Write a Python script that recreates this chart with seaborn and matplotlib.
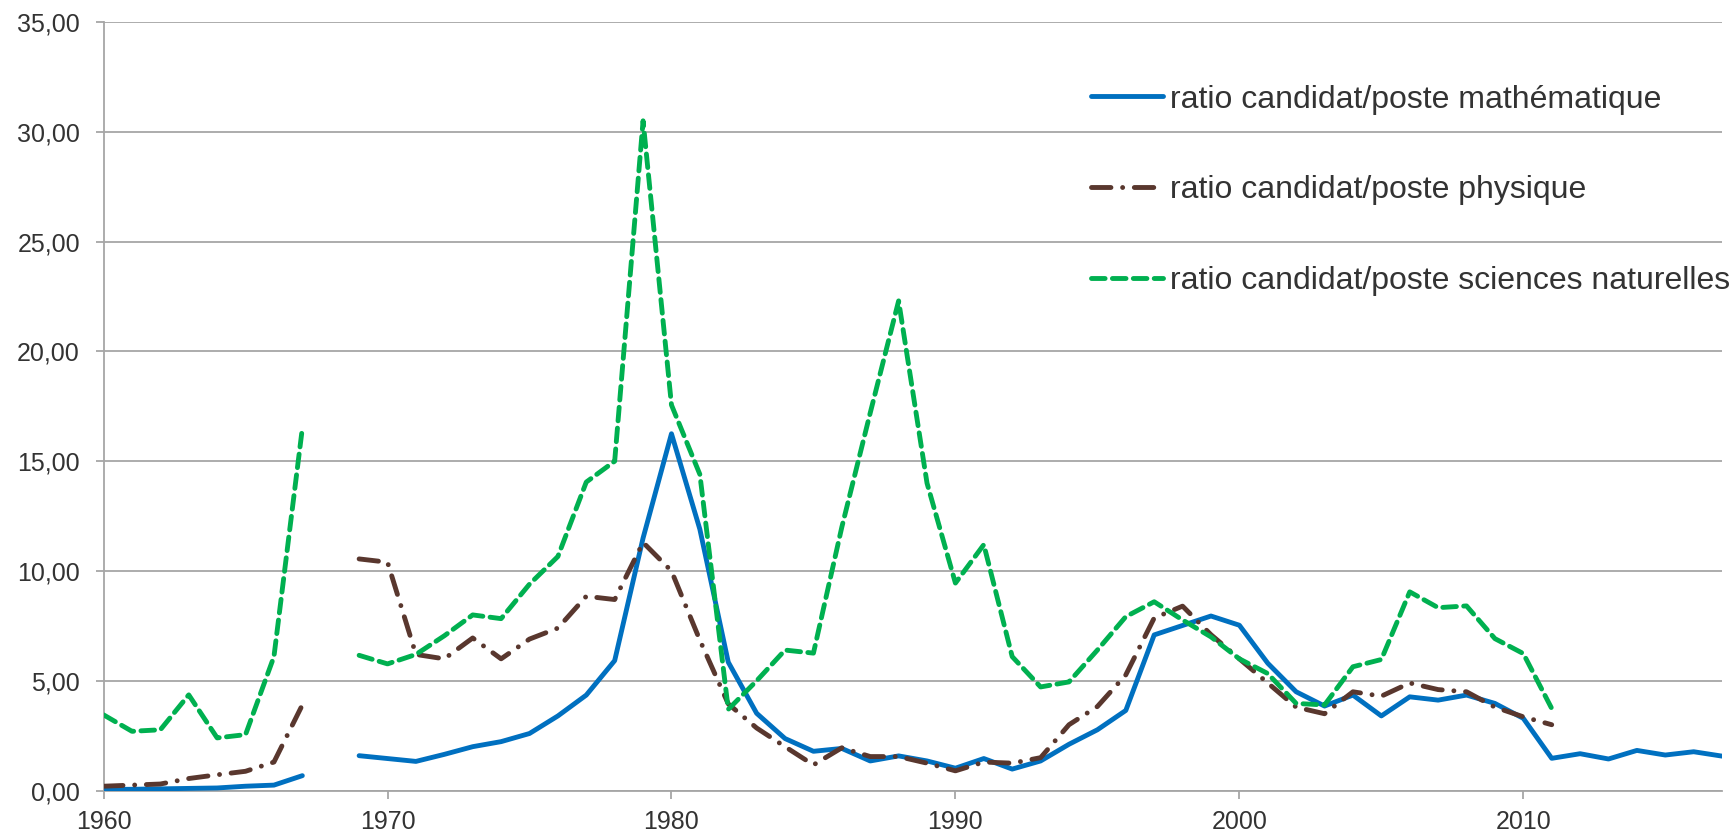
import numpy as np
import pandas as pd
import matplotlib
matplotlib.use("Agg")
import matplotlib.pyplot as plt
import seaborn as sns

# years 1960-2017, 1968 missing
years = list(range(1960, 2018))

maths = [0.05, 0.06, 0.08, 0.10, 0.12, 0.20, 0.25, 0.68, np.nan,
         1.59, 1.46, 1.33, 1.65, 2.00, 2.23, 2.60, 3.40, 4.35, 5.92, 11.5,
         16.25, 11.9, 5.85, 3.52, 2.37, 1.79, 1.92, 1.35, 1.58, 1.35,
         1.02, 1.46, 0.98, 1.35, 2.11, 2.77, 3.65, 7.09, 7.52, 7.95,
         7.53, 5.80, 4.50, 3.85, 4.35, 3.40, 4.27, 4.12, 4.35, 3.97,
         3.29, 1.47, 1.68, 1.44, 1.83, 1.62, 1.77, 1.57]

physique = [0.20, 0.25, 0.30, 0.55, 0.72, 0.88, 1.30, 3.90, np.nan,
            10.55, 10.4, 6.20, 6.00, 6.95, 6.00, 6.90, 7.40, 8.85, 8.70, 11.3,
            10.0, 6.85, 3.95, 2.85, 2.00, 1.17, 1.95, 1.55, 1.55, 1.25,
            0.90, 1.30, 1.25, 1.50, 3.00, 3.83, 5.27, 7.86, 8.40, 7.10,
            6.00, 4.90, 3.80, 3.50, 4.50, 4.30, 4.90, 4.60, 4.50, 3.80,
            3.36, 3.00, np.nan, np.nan, np.nan, np.nan, np.nan, np.nan]

sciences = [3.45, 2.70, 2.77, 4.36, 2.40, 2.55, 6.10, 16.5, np.nan,
            6.16, 5.77, 6.20, 7.05, 8.00, 7.83, 9.40, 10.66, 14.05, 15.0, 30.5,
            17.56, 14.4, 3.70, 5.00, 6.40, 6.26, 12.0, 17.2, 22.3, 14.0,
            9.45, 11.2, 6.10, 4.72, 4.95, 6.40, 7.92, 8.60, 7.77, 7.00,
            6.00, 5.33, 3.97, 3.90, 5.64, 5.97, 9.05, 8.33, 8.41, 6.92,
            6.24, 3.74, np.nan, np.nan, np.nan, np.nan, np.nan, np.nan]

labels = ["ratio candidat/poste mathématique",
          "ratio candidat/poste physique",
          "ratio candidat/poste sciences naturelles"]
colors = ["#0070C0", "#59372E", "#00B050"]
styles = ["-", (0, (4.0, 2.4, 0.01, 2.4)), (0, (2.8, 1.5))]

y_ticks = [0, 5, 10, 15, 20, 25, 30, 35]
y_ticklabels = ["0,00", "5,00", "10,00", "15,00", "20,00", "25,00", "30,00", "35,00"]
x_ticks = [1960, 1970, 1980, 1990, 2000, 2010]

df = pd.DataFrame({"annee": years, labels[0]: maths, labels[1]: physique, labels[2]: sciences})
df["segment"] = np.where(df["annee"] < 1968, 0, 1)

sns.set_style("white")
plt.rcParams["font.family"] = ["Liberation Sans", "DejaVu Sans"]

fig = plt.figure(figsize=(17.29, 8.36), dpi=100)
ax = fig.add_axes([0.0599, 0.0543, 0.9361, 0.9194])

for lab, col, ls in zip(labels, colors, styles):
    for seg in [0, 1]:
        sub = df[(df["segment"] == seg)].dropna(subset=[lab])
        sns.lineplot(data=sub, x="annee", y=lab, ax=ax, color=col, linewidth=3.5,
                     linestyle=ls, dash_capstyle="round", solid_capstyle="round",
                     legend=False, zorder=3)

ax.set_xlim(1960, 2017)
ax.set_ylim(0, 35)
ax.set_yticks(y_ticks)
ax.set_yticklabels(y_ticklabels)
ax.set_xticks(x_ticks)
ax.set_xlabel("")
ax.set_ylabel("")
ax.yaxis.grid(True, color="#A6A6A6", linewidth=1.3)
ax.set_axisbelow(True)
for s in ["top", "right"]:
    ax.spines[s].set_visible(False)
for s in ["left", "bottom"]:
    ax.spines[s].set_color("#A6A6A6")
    ax.spines[s].set_linewidth(1.3)
ax.tick_params(axis="both", which="both", length=6, width=1.3, color="#A6A6A6",
               labelsize=18, labelcolor="#333333", left=True, bottom=True)
ax.tick_params(axis="y", pad=11)
ax.tick_params(axis="x", pad=8)

handles = [ax.lines[i] for i in range(1, 6, 2)]
fig.legend(handles, labels, loc="upper left", bbox_to_anchor=(0.6216, 0.918),
           bbox_transform=fig.transFigure, frameon=False, fontsize=23,
           handlelength=2.25, handletextpad=0.22, labelspacing=1.9, borderpad=0,
           labelcolor="#333333")

fig.savefig("out.png", dpi=100)
